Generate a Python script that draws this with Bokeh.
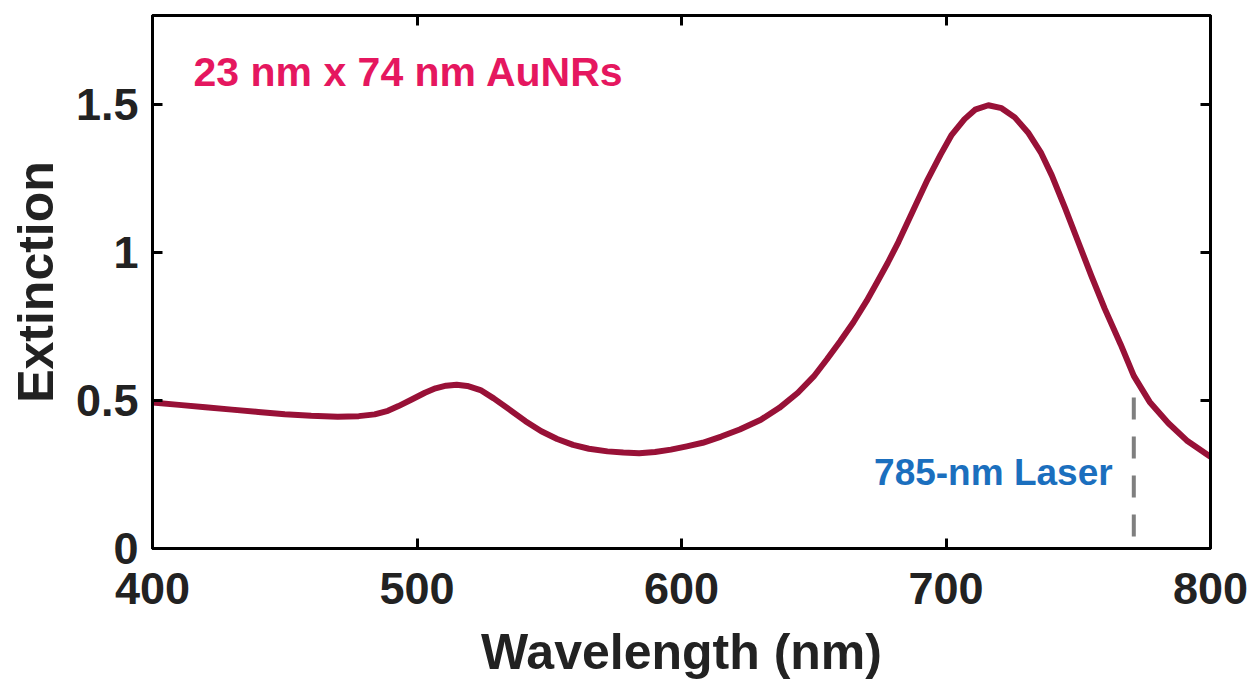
from bokeh.plotting import figure
from bokeh.models import LinearAxis, FixedTicker, Range1d, Label
from bokeh.embed import file_html
from bokeh.resources import INLINE

# Data
wavelength = [400, 410, 420, 430, 440, 450, 460, 470, 478, 484, 489, 493, 498, 503,
              507, 511, 515, 519, 524, 529, 535, 541, 547, 553, 559, 565, 572, 578,
              584, 590, 596, 602, 608, 615, 622, 630, 637, 644, 650, 655, 660, 665,
              670, 674, 678, 682, 688, 693, 698, 702, 707, 711, 716, 721, 726, 731,
              736, 740, 745, 750, 755, 760, 766, 771, 777, 784, 791, 799, 800]
extinction = [0.493, 0.485, 0.477, 0.469, 0.461, 0.453, 0.448, 0.445, 0.447, 0.453,
              0.465, 0.481, 0.503, 0.526, 0.541, 0.550, 0.553, 0.549, 0.535, 0.507,
              0.469, 0.430, 0.396, 0.370, 0.350, 0.337, 0.328, 0.324, 0.322, 0.326,
              0.334, 0.345, 0.357, 0.378, 0.402, 0.435, 0.475, 0.526, 0.581, 0.639,
              0.700, 0.764, 0.836, 0.900, 0.965, 1.035, 1.150, 1.245, 1.331, 1.395,
              1.450, 1.482, 1.497, 1.487, 1.456, 1.405, 1.335, 1.260, 1.150, 1.035,
              0.920, 0.810, 0.690, 0.583, 0.495, 0.424, 0.365, 0.316, 0.310]

x_ticks = [400, 500, 600, 700, 800]
y_ticks = [0, 0.5, 1, 1.5]
y_tick_labels = ["0", "0.5", "1", "1.5"]

laser_x = 771
laser_top = 0.51
laser_label = "785-nm Laser"
sample_label = "23 nm x 74 nm AuNRs"

FONT = "Liberation Sans"

p = figure(width=1252, height=683, output_backend="svg", toolbar_location=None,
           x_range=Range1d(400, 800), y_range=Range1d(0, 1.8),
           min_border_left=152, min_border_right=42, min_border_top=15,
           min_border_bottom=135)
p.grid.visible = False
p.outline_line_color = "black"
p.outline_line_width = 3
p.background_fill_color = "white"
p.border_fill_color = "white"

p.line(wavelength, extinction, line_color="#981137", line_width=6,
       line_join="round", line_cap="round")

# Laser line
p.segment(x0=[laser_x], y0=[laser_top], x1=[laser_x], y1=[0],
          line_color="#7f7f7f", line_width=4, line_dash="22 17")

p.add_layout(Label(x=763, y=0.255, text=laser_label, text_align="right",
                   text_baseline="middle", text_font=FONT, text_font_style="bold",
                   text_font_size="37px", text_color="#1b6fbe"))
p.add_layout(Label(x=415.5, y=1.61, text=sample_label, text_align="left",
                   text_baseline="middle", text_font=FONT, text_font_style="bold",
                   text_font_size="41px", text_color="#e5175f"))

def style(ax, labels=True):
    ax.axis_line_color = "black"
    ax.axis_line_width = 3
    ax.major_tick_line_color = "black"
    ax.major_tick_line_width = 3
    ax.major_tick_in = 10
    ax.major_tick_out = 0
    ax.minor_tick_line_color = None
    if labels:
        ax.major_label_text_font = FONT
        ax.major_label_text_font_style = "bold"
        ax.major_label_text_font_size = "45px"
        ax.major_label_text_color = "#222222"
        ax.axis_label_text_font = FONT
        ax.axis_label_text_font_style = "bold"
        ax.axis_label_text_font_size = "50px"
        ax.axis_label_text_color = "#222222"
    else:
        ax.major_label_text_font_size = "0px"
        ax.major_label_text_color = None

xa = p.xaxis[0]
xa.ticker = FixedTicker(ticks=x_ticks)
xa.axis_label = "Wavelength (nm)"
xa.major_label_standoff = 24
xa.axis_label_standoff = 17
style(xa)

ya = p.yaxis[0]
ya.ticker = FixedTicker(ticks=y_ticks)
ya.major_label_overrides = {t: s for t, s in zip(y_ticks, y_tick_labels)}
ya.axis_label = "Extinction"
ya.major_label_standoff = 14
ya.axis_label_standoff = 9
style(ya)

top = LinearAxis(ticker=FixedTicker(ticks=x_ticks))
style(top, labels=False)
p.add_layout(top, "above")
right = LinearAxis(ticker=FixedTicker(ticks=y_ticks))
style(right, labels=False)
p.add_layout(right, "right")

open("out.html", "w").write(file_html(p, INLINE))
